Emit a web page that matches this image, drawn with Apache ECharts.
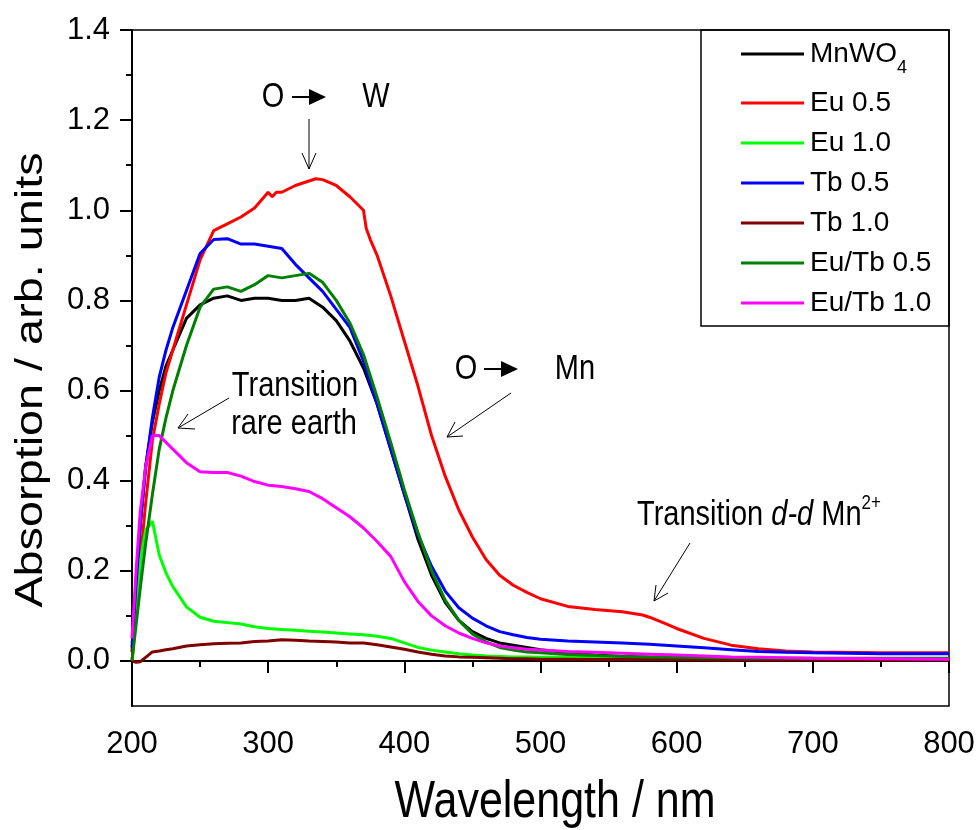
<!DOCTYPE html>
<html>
<head>
<meta charset="utf-8">
<script src="https://cdn.jsdelivr.net/npm/echarts@6/dist/echarts.min.js"></script>
<style>html,body{margin:0;padding:0;background:#fff;overflow:hidden}#c{width:978px;height:830px}</style>
</head>
<body>
<div id="c"></div>
<script>
// ---------- DATA ----------
const seriesNames = ['MnWO4', 'Eu 0.5', 'Eu 1.0', 'Tb 0.5', 'Tb 1.0', 'Eu/Tb 0.5', 'Eu/Tb 1.0'];

const wl = [200,203,206,210,215,220,225,230,240,250,260,270,280,290,300,310,320,330,340,350,360,370,380,390,400,410,420,430,440,450,460,470,480,490,500,520,540,560,580,600,620,640,660,680,700,750,800];

const mnwo4 = [0.02,0.15,0.30,0.43,0.53,0.60,0.655,0.69,0.76,0.79,0.805,0.81,0.80,0.805,0.805,0.80,0.80,0.805,0.785,0.755,0.71,0.65,0.57,0.47,0.37,0.27,0.19,0.13,0.09,0.065,0.05,0.04,0.035,0.03,0.025,0.018,0.013,0.010,0.008,0.007,0.006,0.005,0.005,0.004,0.004,0.003,0.003];

const redWl = [200,203,206,210,215,220,225,230,240,250,260,270,280,290,300,303,306,310,320,330,335,340,350,360,365,370,372,375,380,390,400,410,420,430,440,450,460,470,480,490,500,520,540,560,575,580,590,600,620,640,660,680,700,750,800];
const eu05 = [0.0,0.10,0.22,0.35,0.49,0.57,0.64,0.69,0.79,0.89,0.955,0.97,0.985,1.005,1.04,1.03,1.04,1.04,1.055,1.065,1.07,1.068,1.055,1.03,1.015,1.0,0.96,0.935,0.90,0.81,0.71,0.61,0.50,0.41,0.335,0.275,0.225,0.19,0.168,0.152,0.138,0.121,0.114,0.109,0.102,0.097,0.085,0.072,0.05,0.035,0.027,0.022,0.02,0.018,0.018];

const eu10 = [0.04,0.12,0.22,0.29,0.31,0.235,0.195,0.165,0.12,0.097,0.088,0.085,0.082,0.076,0.072,0.07,0.068,0.066,0.064,0.062,0.06,0.058,0.055,0.05,0.04,0.03,0.024,0.02,0.016,0.013,0.011,0.01,0.009,0.009,0.008,0.008,0.007,0.007,0.006,0.006,0.006,0.005,0.005,0.005,0.005,0.005,0.005];

const tb05 = [0.03,0.17,0.30,0.43,0.54,0.63,0.69,0.74,0.822,0.904,0.935,0.937,0.925,0.925,0.92,0.915,0.88,0.85,0.82,0.78,0.74,0.665,0.57,0.47,0.37,0.28,0.21,0.155,0.118,0.095,0.078,0.065,0.058,0.052,0.048,0.044,0.042,0.040,0.037,0.033,0.029,0.025,0.021,0.019,0.018,0.016,0.016];

const tb10 = [0.0,-0.003,-0.002,0.008,0.02,0.022,0.025,0.027,0.033,0.036,0.038,0.039,0.04,0.043,0.044,0.047,0.046,0.044,0.043,0.042,0.04,0.04,0.036,0.031,0.026,0.02,0.015,0.011,0.009,0.008,0.007,0.006,0.005,0.005,0.004,0.004,0.003,0.003,0.003,0.003,0.002,0.002,0.002,0.002,0.002,0.002,0.002];

const eutb05 = [0.0,0.08,0.16,0.26,0.37,0.47,0.54,0.60,0.70,0.785,0.825,0.83,0.82,0.835,0.855,0.85,0.855,0.86,0.84,0.80,0.75,0.68,0.585,0.485,0.38,0.285,0.20,0.135,0.09,0.06,0.042,0.03,0.024,0.02,0.018,0.014,0.012,0.010,0.009,0.008,0.007,0.007,0.006,0.006,0.006,0.006,0.006];

const eutb10 = [0.05,0.20,0.33,0.43,0.50,0.50,0.485,0.47,0.44,0.42,0.418,0.418,0.41,0.398,0.39,0.387,0.382,0.376,0.36,0.34,0.32,0.295,0.265,0.232,0.176,0.132,0.10,0.078,0.062,0.05,0.04,0.033,0.029,0.026,0.024,0.021,0.019,0.017,0.015,0.013,0.011,0.009,0.008,0.007,0.006,0.005,0.004];

const colors = ['#000000', '#ff0000', '#00ff00', '#0000ff', '#800000', '#008000', '#ff00ff'];

const xTicks = [200, 300, 400, 500, 600, 700, 800];
const yTickValues = [0.0, 0.2, 0.4, 0.6, 0.8, 1.0, 1.2, 1.4];
const yMinorValues = [0.1, 0.3, 0.5, 0.7, 0.9, 1.1, 1.3];

// ---------- BUILD ----------
const FONT = 'Liberation Sans';
const SY = 1.2; // vertical stretch of the reference lettering
function pairs(x, y) { return x.map((v, i) => [v, y[i]]); }
const seriesData = [
  pairs(wl, mnwo4), pairs(redWl, eu05), pairs(wl, eu10), pairs(wl, tb05),
  pairs(wl, tb10), pairs(wl, eutb05), pairs(wl, eutb10)
];

const chart = echarts.init(document.getElementById('c'), null, { renderer: 'canvas' });

const axisLineStyle = { color: '#000', width: 2 };

function txt(x, y, s, size) {
  return { type: 'text', x: x, y: y, scaleY: SY,
    style: { text: s, font: size + 'px "Liberation Sans"', fill: '#000', align: 'center', verticalAlign: 'middle' } };
}

const option = {
  animation: false,
  backgroundColor: '#fff',
  grid: { left: 132, top: 30, right: 29, bottom: 124, show: true, borderColor: '#000', borderWidth: 1.5, containLabel: false, outerBoundsMode: 'none' },
  xAxis: {
    type: 'value', min: xTicks[0], max: xTicks[xTicks.length - 1], interval: 100,
    axisLine: { show: true, lineStyle: axisLineStyle },
    axisTick: { show: true, inside: false, length: 12, lineStyle: axisLineStyle },
    minorTick: { show: true, splitNumber: 2, length: 6, lineStyle: axisLineStyle },
    splitLine: { show: false }, minorSplitLine: { show: false },
    axisLabel: { fontFamily: FONT, fontSize: 31, color: '#000', margin: 23 }
  },
  yAxis: [
    {
      type: 'value', min: -0.1, max: 1.4, position: 'left',
      axisLine: { show: true, onZero: false, lineStyle: axisLineStyle },
      axisTick: { show: true, inside: false, length: 12, lineStyle: axisLineStyle, customValues: yTickValues },
      splitLine: { show: false },
      axisLabel: { fontFamily: FONT, fontSize: 31, color: '#000', margin: 22, customValues: yTickValues, formatter: v => Number(v).toFixed(1) }
    },
    {
      type: 'value', min: -0.1, max: 1.4, position: 'left', offset: 0,
      axisLine: { show: false },
      axisTick: { show: true, inside: false, length: 6, lineStyle: axisLineStyle, customValues: yMinorValues },
      splitLine: { show: false },
      axisLabel: { show: false }
    }
  ],
  legend: {
    orient: 'vertical', left: 736, top: 35,
    itemWidth: 63, itemHeight: 3, itemGap: 12, icon: 'rect',
    data: seriesNames,
    formatter: function (name) {
      if (name === 'MnWO4') return '{n|MnWO}{sub|4}';
      return '{n|' + name + '}';
    },
    textStyle: {
      fontFamily: FONT, fontSize: 28, color: '#000', padding: [0, 0, 0, 1],
      rich: {
        n: { fontFamily: FONT, fontSize: 28, color: '#000' },
        sub: { fontFamily: FONT, fontSize: 18, color: '#000', padding: [28, 0, 0, 0] }
      }
    }
  },
  series: seriesNames.map((name, i) => ({
    name: name, type: 'line', data: seriesData[i], showSymbol: false, symbol: 'none',
    smooth: false, lineStyle: { color: colors[i], width: 3 }, itemStyle: { color: colors[i] },
    z: 2 + i, yAxisIndex: 0
  })),
  graphic: [
    // legend box
    { type: 'rect', shape: { x: 701, y: 30, width: 248, height: 296 }, style: { fill: 'none', stroke: '#000', lineWidth: 1.5 }, z: 1 },
    // axis titles
    txt(555, 803, 'Wavelength / nm', 43),
    { type: 'text', x: 31, y: 380, rotation: Math.PI / 2, scaleX: SY,
      style: { text: 'Absorption / arb. units', font: '39px "Liberation Sans"', fill: '#000', align: 'center', verticalAlign: 'middle' } },
    // O -> W
    txt(273, 97, 'O', 29),
    { type: 'line', shape: { x1: 292, y1: 97, x2: 311, y2: 97 }, style: { stroke: '#000', lineWidth: 2 } },
    { type: 'polygon', shape: { points: [[309, 89], [326, 97], [309, 105]] }, style: { fill: '#000' } },
    txt(376, 97, 'W', 29),
    { type: 'line', shape: { x1: 309, y1: 119, x2: 309, y2: 169 }, style: { stroke: '#000', lineWidth: 1 } },
    { type: 'polyline', shape: { points: [[302, 153], [309, 169], [316, 153]] }, style: { stroke: '#000', lineWidth: 1, fill: 'none' } },
    // O -> Mn
    txt(466, 369, 'O', 29),
    { type: 'line', shape: { x1: 484, y1: 369, x2: 503, y2: 369 }, style: { stroke: '#000', lineWidth: 2 } },
    { type: 'polygon', shape: { points: [[501, 361], [518, 369], [501, 377]] }, style: { fill: '#000' } },
    txt(575, 369, 'Mn', 29),
    { type: 'line', shape: { x1: 511, y1: 393, x2: 447, y2: 437 }, style: { stroke: '#000', lineWidth: 1 } },
    { type: 'polyline', shape: { points: [[455, 422], [447, 437], [463, 436]] }, style: { stroke: '#000', lineWidth: 1, fill: 'none' } },
    // Transition rare earth
    txt(295, 386, 'Transition', 29),
    txt(294, 424, 'rare earth', 29),
    { type: 'line', shape: { x1: 229, y1: 398, x2: 178, y2: 428 }, style: { stroke: '#000', lineWidth: 1 } },
    { type: 'polyline', shape: { points: [[188, 414], [178, 428], [195, 429]] }, style: { stroke: '#000', lineWidth: 1, fill: 'none' } },
    // Transition d-d Mn2+
    { type: 'text', x: 637, y: 515, scaleY: SY, style: {
        text: '{n|Transition }{i|d-d}{n| Mn}{sup|2+}', fill: '#000', align: 'left', verticalAlign: 'middle',
        rich: {
          n: { fontFamily: FONT, fontSize: 29, fill: '#000', lineHeight: 32 },
          i: { fontFamily: FONT, fontSize: 29, fontStyle: 'italic', fill: '#000', lineHeight: 32 },
          sup: { fontFamily: FONT, fontSize: 17, fill: '#000', padding: [0, 0, 20, 0] }
        }
      } },
    { type: 'line', shape: { x1: 690, y1: 543, x2: 654, y2: 601 }, style: { stroke: '#000', lineWidth: 1 } },
    { type: 'polyline', shape: { points: [[656, 585], [654, 601], [668, 593]] }, style: { stroke: '#000', lineWidth: 1, fill: 'none' } }
  ]
};
chart.setOption(option);
</script>
</body>
</html>
